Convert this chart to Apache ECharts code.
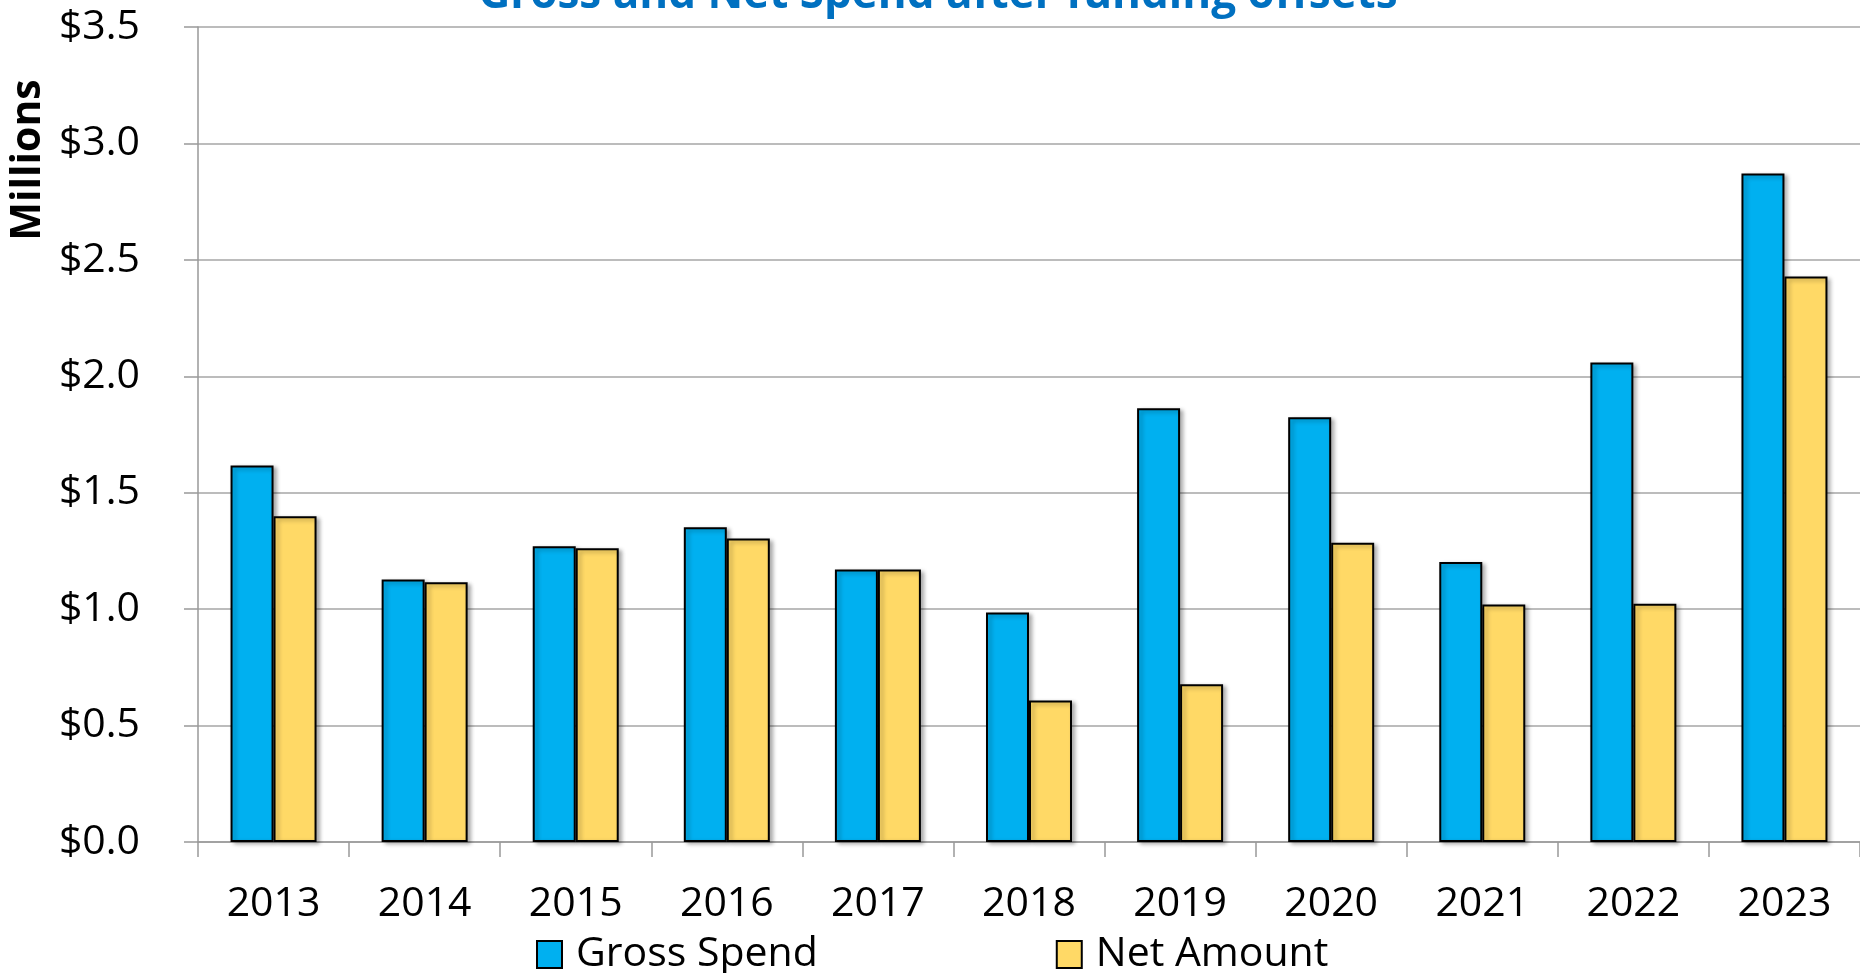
<!DOCTYPE html>
<html>
<head>
<meta charset="utf-8">
<title>Gross and Net Spend after funding offsets</title>
<script src="https://cdn.jsdelivr.net/npm/echarts@6/dist/echarts.min.js"></script>
<style>
  html, body { margin: 0; padding: 0; background: #fff; }
  #chart { width: 1860px; height: 973px; }
</style>
</head>
<body>
<div id="chart"></div>
<script>
// values in millions of dollars
const years = ["2013", "2014", "2015", "2016", "2017", "2018", "2019", "2020", "2021", "2022", "2023"];
const grossSpend = [1.617, 1.127, 1.270, 1.352, 1.170, 0.986, 1.863, 1.824, 1.202, 2.059, 2.871];
const netAmount = [1.399, 1.116, 1.262, 1.303, 1.170, 0.608, 0.677, 1.285, 1.020, 1.023, 2.428];

const FONT = "'Open Sans', 'Noto Sans', sans-serif";

const chart = echarts.init(document.getElementById("chart"));

const barStyle = (color) => ({
  color: color,
  borderColor: "#000",
  borderWidth: 2,
  shadowColor: "rgba(0,0,0,0.3)",
  shadowBlur: 4,
  shadowOffsetX: 3,
  shadowOffsetY: 2,
});

chart.setOption({
  animation: false,
  backgroundColor: "#fff",
  grid: { left: 198, top: 27, width: 1664, height: 815 },
  graphic: [
    {
      type: "text",
      x: 938,
      y: -5,
      style: {
        text: "Gross and Net Spend after funding offsets",
        font: "bold 44px " + FONT,
        fill: "#0070C0",
        textAlign: "center",
        verticalAlign: "middle",
      },
    },
    {
      type: "text",
      x: 28,
      y: 160,
      rotation: Math.PI / 2,
      style: {
        text: "Millions",
        font: "bold 41px " + FONT,
        fill: "#000",
        textAlign: "center",
        verticalAlign: "middle",
      },
    },
  ],
  legend: {
    left: 536,
    top: 934,
    padding: 0,
    itemWidth: 25,
    itemHeight: 27,
    itemGap: 238,
    icon: "rect",
    textStyle: { fontFamily: FONT, fontSize: 41, color: "#000", padding: [0, 0, 0, 9], lineHeight: 30 },
    data: ["Gross Spend", "Net Amount"],
  },
  xAxis: {
    type: "category",
    data: years,
    axisLine: { lineStyle: { color: "#999", width: 1.5 } },
    axisTick: { show: true, length: 15, alignWithLabel: false, lineStyle: { color: "#999", width: 1.5 } },
    axisLabel: { fontFamily: FONT, fontSize: 41, color: "#000", margin: 42, lineHeight: 41 },
    splitLine: { show: false },
  },
  yAxis: {
    type: "value",
    min: 0,
    max: 3.5,
    interval: 0.5,
    axisLine: { show: true, lineStyle: { color: "#999", width: 1.5 } },
    axisTick: { show: true, length: 14, lineStyle: { color: "#999", width: 1.5 } },
    axisLabel: {
      fontFamily: FONT,
      fontSize: 41,
      color: "#000",
      margin: 58,
      formatter: (v) => "$" + v.toFixed(1),
    },
    splitLine: { lineStyle: { color: "#a6a6a6", width: 1.5 } },
  },
  series: [
    {
      name: "Gross Spend",
      type: "bar",
      data: grossSpend,
      barWidth: 43,
      barGap: "0%",
      itemStyle: barStyle("#00B0F0"),
    },
    {
      name: "Net Amount",
      type: "bar",
      data: netAmount,
      barWidth: 43,
      barGap: "0%",
      itemStyle: barStyle("#FFD966"),
    },
  ],
});
</script>
</body>
</html>
